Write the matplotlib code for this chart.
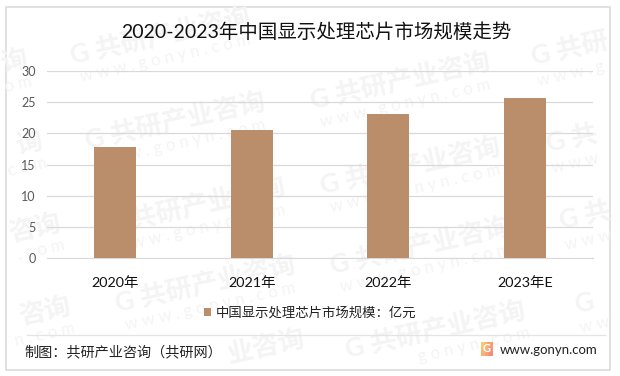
import numpy as np
import matplotlib
matplotlib.use('Agg')
import matplotlib.pyplot as plt
from matplotlib.patches import Rectangle

plt.rcParams['font.family'] = ['Lato', 'Noto Sans CJK SC', 'DejaVu Sans']

### Chart data
categories = ['2020年', '2021年', '2022年', '2023年E']
values = [17.8, 20.55, 23.1, 25.7]
y_ticks = [0, 5, 10, 15, 20, 25, 30]
series_name = '中国显示处理芯片市场规模：亿元'
title = '2020-2023年中国显示处理芯片市场规模走势'
source = '制图：共研产业咨询（共研网）'
site = 'www.gonyn.com'

### Watermarks in pixels: x, y, text, url part, anchor
wm_cn = 'G 共研产业咨询'
wm_url = 'w w w . g o n y n . c o m'
marks = [(160, 35, wm_cn, wm_url, 'center'), (400, 80, wm_cn, wm_url, 'center'),
         (175, 120, wm_cn, wm_url, 'center'), (410, 165, wm_cn, wm_url, 'center'),
         (195, 205, wm_cn, wm_url, 'center'), (420, 245, wm_cn, wm_url, 'center'),
         (205, 283, wm_cn, wm_url, 'center'), (525, 309, wm_cn, 'g o n y n . c o m', 'right'),
         (305, 338, '业咨询', '', 'right'),
         (27, 58, '询', 'o m', 'right'), (42, 140, '询', 'c o m', 'right'),
         (60, 222, '咨询', '. c o m', 'right'), (70, 305, '咨询', 'n . c o m', 'right'),
         (532, 58, 'G 共研', 'w w w . g', 'left'), (547, 145, 'G 共', 'w w w', 'left'),
         (560, 222, 'G 共', 'w w w', 'left'), (575, 305, 'G', 'w w', 'left')]

W, H = 620, 376
fig = plt.figure(figsize=(W / 100, H / 100), dpi=100, facecolor='white')

### Background layer, same coords as the picture
bg = fig.add_axes([0, 0, 1, 1], zorder=0)
bg.set_xlim(0, W)
bg.set_ylim(H, 0)
bg.axis('off')

frame = Rectangle((5.5, 6.5), 604.5, 363, fc='white', ec='#d9d9d9', lw=1.1, zorder=1)
bg.add_patch(frame)

for mx, my, cn, url, anchor in marks:
    t1 = bg.text(mx, my, cn, fontsize=19, fontweight='bold', color='#f4f4f4',
                 rotation=12.5, rotation_mode='anchor', ha=anchor, va='center', zorder=2)
    t1.set_clip_path(frame)
    if url:
        t2 = bg.text(mx + 5, my + 23, url, fontsize=12, color='#f4f4f4',
                     rotation=12.5, rotation_mode='anchor', ha=anchor, va='center', zorder=2)
        t2.set_clip_path(frame)

bg.plot([27, 605], [335, 335], color='#e4e4e4', lw=0.9, zorder=3)

bg.text(316.5, 32, title, fontsize=14, color='#111111', ha='center', va='center', zorder=5)
bg.text(24, 352, source, fontsize=10.2, color='#222222', ha='left', va='center', zorder=5)
bg.text(500, 350, site, fontsize=9.5, color='#222222', ha='left', va='center', zorder=5)

### Logo
grad = np.array([[[0.98, 0.78, 0.45], [0.98, 0.62, 0.45]],
                 [[0.98, 0.70, 0.45], [0.96, 0.55, 0.50]]])
bg.imshow(grad, extent=(481, 493, 356, 342), aspect='auto', interpolation='bilinear', zorder=4)
bg.set_xlim(0, W)
bg.set_ylim(H, 0)
bg.text(487, 349, 'G', fontsize=8, fontweight='bold', color='white', ha='center', va='center', zorder=5)

### Bar chart
ax = fig.add_axes([47 / W, 1 - 258.3 / H, 546 / W, (258.3 - 71) / H], zorder=1)
ax.patch.set_alpha(0)
x = np.arange(len(categories))
bars = ax.bar(x, values, width=0.31, color='#ba8d6b', zorder=3, label=series_name)
ax.set_xlim(-0.5, 3.5)
ax.set_ylim(0, 30)
ax.set_yticks(y_ticks)
ax.set_xticks(x)
ax.set_xticklabels(categories, fontsize=10.4, color='#111111')
ax.tick_params(axis='x', length=0, pad=12.5)
ax.tick_params(axis='y', length=0, pad=8, labelsize=9, labelcolor='#595959')
ax.grid(axis='y', color='#d9d9d9', lw=0.9, zorder=0)
for s in ['top', 'right', 'left']:
    ax.spines[s].set_visible(False)
ax.spines['bottom'].set_color('#d9d9d9')

leg = ax.legend(loc='center', bbox_to_anchor=(310 / W, 1 - 312 / H), bbox_transform=fig.transFigure,
                frameon=False, fontsize=9.6, handlelength=0.55, handleheight=0.55, handletextpad=0.3,
                labelcolor='#222222')

fig.savefig('out.png', dpi=100)
